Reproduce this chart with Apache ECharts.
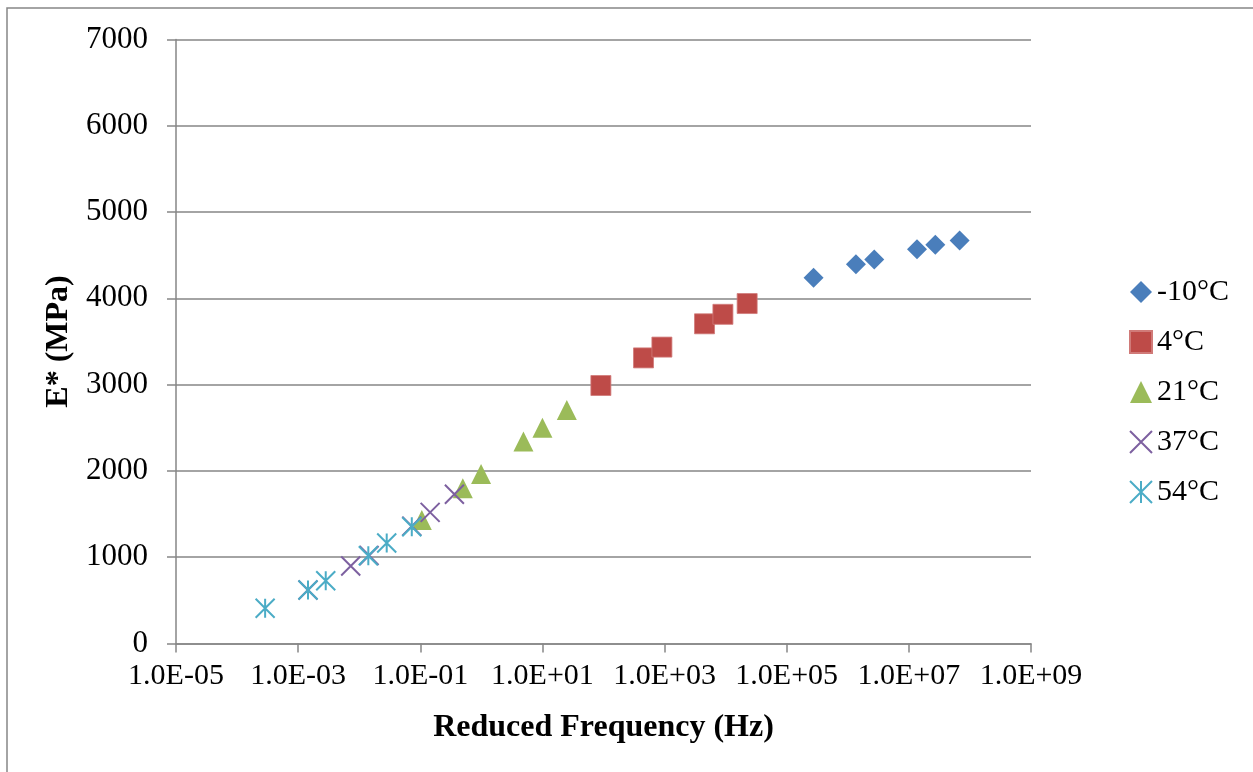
<!DOCTYPE html>
<html>
<head>
<meta charset="utf-8">
<script src="https://cdn.jsdelivr.net/npm/echarts@6/dist/echarts.min.js"></script>
<style>
  html, body { margin: 0; padding: 0; background: #fff; }
  #chart { width: 1253px; height: 772px; }
</style>
</head>
<body>
<div id="chart"></div>
<script>
  // values: [reduced frequency (Hz), E* (MPa)]
  const tMinus10 = [[2.75e5, 4240], [1.36e6, 4395], [2.71e6, 4450], [1.36e7, 4570], [2.71e7, 4620], [6.78e7, 4670]]
  const t4 = [[90.6, 2990], [452, 3310], [904, 3435], [4510, 3705], [9020, 3815], [22500, 3940]]
  const t21 = [[0.106, 1430], [0.497, 1800], [0.99, 1965], [4.89, 2340], [10, 2500], [25.1, 2705]]
  const t37 = [[1.45e-3, 620], [7.26e-3, 898], [1.45e-2, 1020], [7.26e-2, 1360], [0.145, 1520], [0.362, 1730]]
  const t54 = [[2.88e-4, 408], [1.45e-3, 620], [2.83e-3, 728], [1.41e-2, 1017], [2.82e-2, 1164], [7.26e-2, 1353]]
  const seriesNames = ['-10°C', '4°C', '21°C', '37°C', '54°C']

  const serif = '"Liberation Serif", "Times New Roman", serif'
  const axisGray = '#868686'

  const fmtExp = v => {
    const e = Math.round(Math.log10(v))
    const s = e < 0 ? '-' : '+'
    return '1.0E' + s + String(Math.abs(e)).padStart(2, '0')
  }

  const chart = echarts.init(document.getElementById('chart'))
  chart.setOption({
    animation: false,
    backgroundColor: '#fff',
    graphic: [{
      type: 'rect',
      shape: { x: 7, y: 8, width: 1400, height: 900 },
      style: { fill: 'none', stroke: axisGray, lineWidth: 1.5 },
      silent: true
    }],
    grid: {
      left: 176,
      top: 39.5,
      right: 222,
      bottom: 128.5
    },
    legend: {
      orient: 'vertical',
      left: 1124,
      top: 272,
      itemWidth: 22,
      itemHeight: 22,
      itemGap: 20,
      textStyle: {
        fontFamily: serif,
        fontSize: 30,
        lineHeight: 30,
        color: '#000'
      },
      data: seriesNames
    },
    xAxis: {
      type: 'log',
      logBase: 10,
      min: 1e-5,
      max: 1e9,
      interval: 2,
      name: 'Reduced Frequency (Hz)',
      nameLocation: 'middle',
      nameGap: 68,
      nameTextStyle: {
        fontFamily: serif,
        fontSize: 32,
        fontWeight: 'bold',
        color: '#000'
      },
      axisLine: { lineStyle: { color: axisGray, width: 1.5 } },
      axisTick: { show: true, length: 9, lineStyle: { color: axisGray, width: 1.5 } },
      splitLine: { show: false },
      minorTick: { show: false },
      axisLabel: {
        margin: 18,
        fontFamily: serif,
        fontSize: 30,
        color: '#000',
        formatter: fmtExp
      }
    },
    yAxis: {
      type: 'value',
      min: 0,
      max: 7000,
      interval: 1000,
      name: 'E* (MPa)',
      nameLocation: 'middle',
      nameGap: 94,
      nameTextStyle: {
        fontFamily: serif,
        fontSize: 32,
        fontWeight: 'bold',
        color: '#000'
      },
      axisLine: { show: true, lineStyle: { color: axisGray, width: 1.5 } },
      axisTick: { show: true, length: 9, lineStyle: { color: axisGray, width: 1.5 } },
      splitLine: { show: true, lineStyle: { color: axisGray, width: 1.5 } },
      axisLabel: {
        margin: 28,
        fontFamily: serif,
        fontSize: 31,
        color: '#000',
        formatter: v => String(v)
      }
    },
    series: [{
      name: seriesNames[0],
      type: 'scatter',
      symbol: 'diamond',
      symbolSize: 20,
      itemStyle: { color: '#4A7EBB', opacity: 1 },
      data: tMinus10
    }, {
      name: seriesNames[1],
      type: 'scatter',
      symbol: 'rect',
      symbolSize: 20,
      itemStyle: { color: '#BE4B48', borderColor: '#D07A78', borderWidth: 0.8, opacity: 1 },
      data: t4
    }, {
      name: seriesNames[2],
      type: 'scatter',
      symbol: 'triangle',
      symbolSize: 20,
      itemStyle: { color: '#9BBB59', opacity: 1 },
      data: t21
    }, {
      name: seriesNames[3],
      type: 'scatter',
      symbol: 'path://M0,0L10,10M10,0L0,10',
      symbolSize: 19,
      itemStyle: { color: 'rgba(0,0,0,0)', borderColor: '#7D60A0', borderWidth: 2, opacity: 1 },
      data: t37
    }, {
      name: seriesNames[4],
      type: 'scatter',
      symbol: 'path://M0,0L10,10M10,0L0,10M5,0L5,10',
      symbolSize: 19,
      itemStyle: { color: 'rgba(0,0,0,0)', borderColor: '#4BACC6', borderWidth: 2, opacity: 1 },
      data: t54
    }]
  })
</script>
</body>
</html>
